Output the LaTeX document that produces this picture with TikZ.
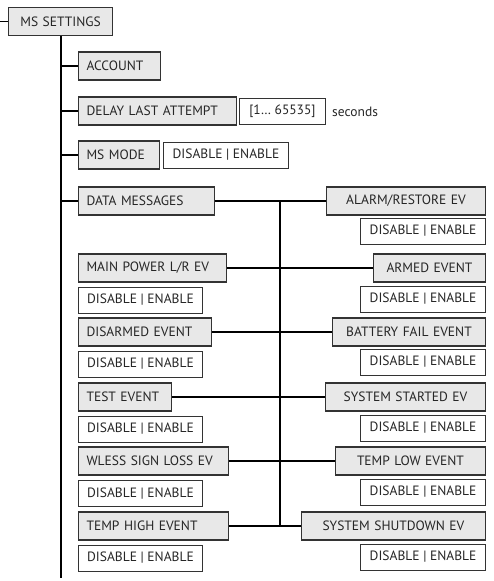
\documentclass[tikz,border=0pt]{standalone}
\usepackage{fontspec}
\setmainfont{PT Sans}
\usetikzlibrary{positioning}

\begin{document}
\begin{tikzpicture}[x=1pt, y=-1pt, every node/.style={font=\fontsize{13.5}{15}\selectfont, text=black!85}, menu/.style={draw=black!80, fill=black!9, line width=1.1pt, minimum height=28pt, inner xsep=8pt, inner ysep=0pt, text width=#1-16pt, align=left}, rmenu/.style={menu=#1, align=center}, opt/.style={draw=black!80, fill=white, line width=0.9pt, minimum height=26pt, inner xsep=0pt, inner ysep=0pt, minimum width=#1}, wire/.style={line width=1.4pt}]
\useasboundingbox (0,0) rectangle (493,581);
% main branch
\node[menu=104pt, align=center, anchor=west] (mss) at (8,21.5) {MS SETTINGS};
\node[menu=82pt, anchor=west] (account) at (78,66) {ACCOUNT};
\node[menu=158pt, anchor=west] (delay) at (78,111) {DELAY LAST ATTEMPT};
\node[opt=86pt, anchor=west] (range) at (239,111) {[1… 65535]};
\node[anchor=west, inner sep=0pt] (seconds) at (332,112) {seconds};
\node[menu=81pt, anchor=west] (msmode) at (78,155) {MS MODE};
\node[opt=125pt, anchor=west] (modeopt) at (163,155) {DISABLE | ENABLE};
\node[menu=136pt, anchor=west] (datamsg) at (78,201) {DATA MESSAGES};
% left events
\node[menu=148pt, anchor=west] (mainpwr) at (78,268) {MAIN POWER L/R EV};
\node[opt=124pt, anchor=west] (mainpwropt) at (78,300) {DISABLE | ENABLE};
\node[menu=133pt, anchor=west] (disarmed) at (78,332) {DISARMED EVENT};
\node[opt=124pt, anchor=west] (disarmedopt) at (78,364) {DISABLE | ENABLE};
\node[menu=93pt, anchor=west] (test) at (78,397) {TEST EVENT};
\node[opt=124pt, anchor=west] (testopt) at (78,429) {DISABLE | ENABLE};
\node[menu=150pt, anchor=west] (wless) at (78,461) {WLESS SIGN LOSS EV};
\node[opt=124pt, anchor=west] (wlessopt) at (78,493.5) {DISABLE | ENABLE};
\node[menu=150pt, anchor=west] (temphigh) at (78,526) {TEMP HIGH EVENT};
\node[opt=124pt, anchor=west] (temphighopt) at (78,558) {DISABLE | ENABLE};
% right events
\node[rmenu=159pt, anchor=east] (alarm) at (486,201) {ALARM/RESTORE EV};
\node[opt=125pt, anchor=east] (alarmopt) at (486,231) {DISABLE | ENABLE};
\node[rmenu=112pt, anchor=east] (armed) at (486,268) {ARMED EVENT};
\node[opt=125pt, anchor=east] (armedopt) at (486,299) {DISABLE | ENABLE};
\node[rmenu=153pt, anchor=east] (battery) at (486,332) {BATTERY FAIL EVENT};
\node[opt=125pt, anchor=east] (batteryopt) at (486,362) {DISABLE | ENABLE};
\node[rmenu=160pt, anchor=east] (started) at (486,397) {SYSTEM STARTED EV};
\node[opt=125pt, anchor=east] (startedopt) at (486,428) {DISABLE | ENABLE};
\node[rmenu=150pt, anchor=east] (templow) at (486,461) {TEMP LOW EVENT};
\node[opt=125pt, anchor=east] (templowopt) at (486,492) {DISABLE | ENABLE};
\node[rmenu=184pt, anchor=east] (shutdown) at (486,526) {SYSTEM SHUTDOWN EV};
\node[opt=125pt, anchor=east] (shutdownopt) at (486,557) {DISABLE | ENABLE};
% trunks
\coordinate (trunk) at (61,578);
\coordinate (bus) at (280,0);
\coordinate (entry) at (0,21.5);
\draw[wire] (entry) -- (mss.west);
\draw[wire] (mss.south -| trunk) -- (trunk);
\foreach \n in {account,delay,msmode,datamsg} \draw[wire] (\n.west -| trunk) -- (\n.west);
\draw[wire] (datamsg.east -| bus) -- (temphigh.east -| bus);
\foreach \a/\b in {datamsg/alarm,mainpwr/armed,disarmed/battery,test/started,wless/templow,temphigh/shutdown} \draw[wire] (\a.east) -- (\a.east -| bus) -- (\b.west);
\end{tikzpicture}
\end{document}
